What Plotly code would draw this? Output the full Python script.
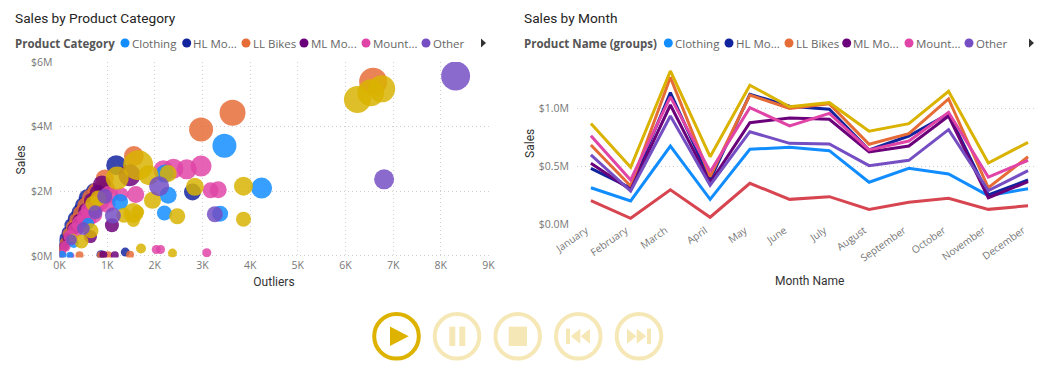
import plotly.graph_objects as go

W, H = 1040, 372

months = ["January", "February", "March", "April", "May", "June", "July",
          "August", "September", "October", "November", "December"]

# Sales by Month, $M
line_clothing = [.318, .204, .677, .218, .649, .666, .637, .365, .485, .436, .250, .310]
line_hl = [.485, .316, 1.136, .385, 1.122, 1.020, .993, .643, .763, .953, .256, .385]
line_ll = [.686, .333, 1.268, .413, 1.115, 1.000, 1.040, .692, .783, 1.082, .318, .585]
line_ml = [.528, .300, 1.030, .360, .878, .918, .907, .626, .677, .935, .232, .370]
line_mount = [.766, .385, 1.100, .456, 1.007, .850, .958, .643, .720, .967, .410, .554]
line_other = [.600, .290, .935, .340, .800, .700, .694, .508, .554, .818, .293, .465]
line_red = [.207, .055, .300, .064, .356, .218, .241, .132, .193, .227, .132, .163]
line_gold = [.870, .494, 1.323, .585, 1.200, 1.015, 1.050, .804, .869, 1.148, .531, .709]

# Sales by Product Category: outliers (K), sales ($M), bubble measure
sc_clothing_x = [3.46, 4.24, 2.21, 2.28, 1.27, 2.20, 3.37, 0.22, 0.05, 0.30, 0.60]
sc_clothing_y = [3.41, 2.10, 2.55, 1.88, 1.67, 1.33, 1.31, 0.02, 0.02, 0.40, 1.00]
sc_clothing_s = [24, 21, 18, 17, 16, 15, 16, 7, 9, 10, 12]

sc_hl_x = [1.19, 2.79, 0.87, 1.38, 0.02, 0.03, 0.08, 0.12, 0.18, 0.25, 0.33, 0.42, 0.50, 0.58, 0.72]
sc_hl_y = [2.81, 1.98, 0.04, 0.12, 0.10, 0.25, 0.40, 0.55, 0.72, 0.95, 1.15, 1.35, 1.55, 1.80, 2.00]
sc_hl_s = [20, 17, 9, 9, 8, 9, 11, 12, 13, 14, 15, 16, 17, 17, 16]

sc_ll_x = [6.58, 3.63, 2.97, 1.56, 0.98, 0.42, 1.02, 0.87, 1.48,
           0.02, 0.04, 0.06, 0.12, 0.20, 0.28, 0.36, 0.45, 0.55, 0.66, 0.78, 0.95]
sc_ll_y = [5.39, 4.43, 3.91, 3.09, 2.08, 0.02, 0.02, 0.02, 0.04,
           0.05, 0.18, 0.25, 0.42, 0.68, 0.90, 1.10, 1.32, 1.55, 1.80, 2.00, 2.40]
sc_ll_s = [28, 26, 24, 20, 18, 8, 8, 8, 8, 9, 9, 10, 11, 13, 14, 15, 16, 17, 18, 18, 18]

sc_ml_x = [1.47, 0.89, 1.10, 0.65, 0.92, 1.16, 0.10, 0.18, 0.30, 0.42, 0.55, 0.68, 0.80]
sc_ml_y = [2.50, 2.21, 0.95, 0.60, 0.04, 0.02, 0.30, 0.55, 0.85, 1.10, 1.40, 1.70, 1.95]
sc_ml_s = [22, 18, 14, 13, 8, 8, 10, 11, 13, 14, 15, 16, 16]

sc_other_x = [8.31, 6.81, 2.09, 3.26, 1.12, 0.25, 0.50, 0.75, 0.95]
sc_other_y = [5.57, 2.37, 2.16, 1.29, 1.25, 0.50, 0.85, 1.35, 1.85]
sc_other_s = [29, 20, 20, 16, 16, 11, 13, 14, 15]

sc_mount_x = [2.18, 2.39, 2.67, 2.97, 1.60, 1.30, 3.17, 3.33, 2.03, 2.12, 3.09, 0.24,
              0.05, 0.12, 0.22, 0.33, 0.45, 0.57, 0.70, 0.62, 0.75, 0.85, 1.00, 1.05]
sc_mount_y = [2.65, 2.70, 2.68, 2.78, 1.90, 1.90, 2.03, 2.05, 0.20, 0.20, 0.10, 0.00,
              0.08, 0.30, 0.60, 0.80, 1.00, 1.17, 1.30, 1.40, 1.50, 1.70, 1.60, 1.90]
sc_mount_s = [20, 20, 20, 21, 17, 14, 16, 17, 9, 9, 9, 7,
              9, 11, 13, 15, 18, 20, 19, 17, 17, 19, 17, 18]

sc_gold_x = [6.25, 6.53, 6.76, 1.65, 1.87, 1.21, 2.28, 1.95, 2.84, 3.86, 2.47, 3.86, 1.55,
             1.35, 1.64, 1.55, 1.71, 2.37, 0.46, 0.28, 0.66, 0.70, 0.81]
sc_gold_y = [4.84, 5.05, 5.17, 2.81, 2.50, 2.41, 2.55, 1.72, 2.14, 2.16, 1.23, 1.14, 1.33,
             1.26, 1.36, 1.10, 0.23, 0.09, 0.45, 0.55, 0.78, 1.62, 1.78]
sc_gold_s = [27, 27, 27, 30, 20, 23, 17, 17, 18, 19, 16, 15, 20,
             15, 13, 13, 10, 9, 14, 9, 15, 15, 16]

legend_labels = ["Clothing", "HL Mo...", "LL Bikes", "ML Mo...", "Mount...", "Other"]
C_BLUE, C_NAVY, C_ORANGE, C_PURPLE, C_PINK, C_VIOLET, C_RED, C_GOLD = (
    "#118DFF", "#12239E", "#E66C37", "#6B007B", "#E044A7", "#744EC2", "#D64550", "#D9B300")
legend_colors = [C_BLUE, C_NAVY, C_ORANGE, C_PURPLE, C_PINK, C_VIOLET]

def px(x):
    return x / W

def py(y):
    return 1 - y / H

fig = go.Figure()

scatter_series = [
    ("HL Mountain", sc_hl_x, sc_hl_y, sc_hl_s, C_NAVY),
    ("LL Bikes", sc_ll_x, sc_ll_y, sc_ll_s, C_ORANGE),
    ("ML Mountain", sc_ml_x, sc_ml_y, sc_ml_s, C_PURPLE),
    ("Mountain", sc_mount_x, sc_mount_y, sc_mount_s, C_PINK),
    ("Clothing", sc_clothing_x, sc_clothing_y, sc_clothing_s, C_BLUE),
    ("Road", sc_gold_x, sc_gold_y, sc_gold_s, C_GOLD),
    ("Other", sc_other_x, sc_other_y, sc_other_s, C_VIOLET),
]
for name, xs, ys, ss, col in scatter_series:
    fig.add_trace(go.Scatter(x=xs, y=ys, mode="markers", name=name, showlegend=False,
                             marker=dict(size=ss, sizemode="diameter", color=col, opacity=0.84,
                                         line=dict(width=0)),
                             xaxis="x", yaxis="y"))

line_series = [
    ("Clothing", line_clothing, C_BLUE),
    ("HL Mountain", line_hl, C_NAVY),
    ("LL Bikes", line_ll, C_ORANGE),
    ("ML Mountain", line_ml, C_PURPLE),
    ("Mountain", line_mount, C_PINK),
    ("Other", line_other, C_VIOLET),
    ("Tires", line_red, C_RED),
    ("Road", line_gold, C_GOLD),
]
for name, ys, col in line_series:
    fig.add_trace(go.Scatter(x=months, y=ys, mode="lines", name=name, showlegend=False,
                             line=dict(color=col, width=3, shape="linear"),
                             xaxis="x2", yaxis="y2"))

TICK = dict(family="Open Sans, sans-serif", size=10.5, color="#777777")
TITLE = dict(family="Roboto, sans-serif", size=12, color="#333333")
GRID = dict(showgrid=True, gridcolor="#CFCFCF", griddash="1px,3px", gridwidth=1,
            zeroline=False, showline=False, ticks="", automargin=False)

annotations = []
shapes = []

def text(x, y, s, font, anchor="left"):
    annotations.append(dict(x=px(x), y=py(y), xref="paper", yref="paper", text=s, showarrow=False,
                            xanchor=anchor, yanchor="middle", font=font, xshift=0, yshift=0,
                            borderpad=0, borderwidth=0))

HEAD = dict(family="Roboto, sans-serif", size=13.7, color="#252423")
LEG_T = dict(family="Open Sans, sans-serif", size=11.5, color="#555555")
LEG = dict(family="Open Sans, sans-serif", size=11.5, color="#666666")

text(15, 18, "Sales by Product Category", HEAD)
text(524, 18, "Sales by Month", HEAD)
text(15, 43, "<b>Product Category</b>", LEG_T)
text(524, 43, "<b>Product Name (groups)</b>", LEG_T)
text(809.5, 281, "Month Name", TITLE, anchor="center")

for dots, arrow in [((125, 186.7, 246, 304, 366, 426), 483), ((668.3, 729, 789, 846.7, 909, 969), 1031)]:
    for d, lab, col in zip(dots, legend_labels, legend_colors):
        shapes.append(dict(type="circle", xref="paper", yref="paper", x0=px(d - 4.5), x1=px(d + 4.5),
                           y0=py(43 + 4.5), y1=py(43 - 4.5), fillcolor=col, line=dict(width=0)))
        text(d + 6.5, 43, lab, LEG)
    shapes.append(dict(type="path", xref="paper", yref="paper", fillcolor="#333333", line=dict(width=0),
                       path=f"M{px(arrow-2)},{py(38.5)} L{px(arrow+3)},{py(43)} L{px(arrow-2)},{py(47.5)} Z"))

# media controls
FULL, FADE = "#DDB300", "#F6E8B6"
CY = 336.3

def ctrl_path(d, col):
    shapes.append(dict(type="path", xref="paper", yref="paper", fillcolor=col, line=dict(width=0), path=d))

def poly(points):
    return "M" + " L".join(f"{px(a)},{py(b)}" for a, b in points) + " Z"

for cx, col in [(396.5, FULL), (457, FADE), (517.7, FADE), (578.3, FADE), (639, FADE)]:
    shapes.append(dict(type="circle", xref="paper", yref="paper", x0=px(cx - 22.3), x1=px(cx + 22.3),
                       y0=py(CY + 22.3), y1=py(CY - 22.3), fillcolor="rgba(0,0,0,0)",
                       line=dict(color=col, width=4)))

top, bot = CY - 9.7, CY + 9.7
ctrl_path(poly([(390, top), (408.7, CY), (390, bot)]), FULL)
ctrl_path(poly([(449.3, top), (455.3, top), (455.3, bot), (449.3, bot)]), FADE)
ctrl_path(poly([(459.3, top), (465.3, top), (465.3, bot), (459.3, bot)]), FADE)
ctrl_path(poly([(508.7, top), (527, top), (527, bot), (508.7, bot)]), FADE)
ty0, ty1 = CY - 7.5, CY + 7.5
ctrl_path(poly([(566, top + 2), (570, top + 2), (570, bot - 2), (566, bot - 2)]), FADE)
ctrl_path(poly([(580.3, ty0), (580.3, ty1), (570.7, CY)]), FADE)
ctrl_path(poly([(590, ty0), (590, ty1), (580.7, CY)]), FADE)
ctrl_path(poly([(647, top + 2), (651, top + 2), (651, bot - 2), (647, bot - 2)]), FADE)
ctrl_path(poly([(627, ty0), (627, ty1), (636.6, CY)]), FADE)
ctrl_path(poly([(636.7, ty0), (636.7, ty1), (646.3, CY)]), FADE)

fig.update_layout(
    width=W, height=H, margin=dict(l=0, r=0, t=0, b=0, pad=0),
    paper_bgcolor="white", plot_bgcolor="white", showlegend=False,
    annotations=annotations, shapes=shapes,
    xaxis=dict(domain=[px(59.5), px(488.5)], range=[0, 9], anchor="y",
               tickvals=list(range(10)), ticktext=[f"{i}K" for i in range(10)], tickfont=TICK,
               title=dict(text="Outliers", font=TITLE, standoff=6), **GRID),
    yaxis=dict(domain=[py(257.6), py(62)], range=[-0.05, 6], anchor="x",
               tickvals=[0, 2, 4, 6], ticktext=["$0M", "$2M", "$4M", "$6M"], tickfont=TICK,
               ticklabelstandoff=6,
               title=dict(text="Sales", font=TITLE, standoff=2), **GRID),
    xaxis2=dict(domain=[px(577), px(1036)], range=[-0.35, 11.2], anchor="y2", type="category",
                categoryorder="array", categoryarray=months, tickangle=-35,
                tickfont=dict(TICK, size=10.2), ticklabelshift=-5, ticklabelstandoff=-3,
                showgrid=False, zeroline=False, showline=False, ticks="", automargin=False),
    yaxis2=dict(domain=[py(224.7), py(62)], range=[0, 1.4], anchor="x2",
                tickvals=[0, .5, 1], ticktext=["$0.0M", "$0.5M", "$1.0M"], tickfont=TICK,
                ticklabelstandoff=7,
                title=dict(text="Sales", font=TITLE, standoff=1), **GRID),
)

fig.write_html("out.html", post_script="document.body.style.margin='0';",
               config=dict(displayModeBar=False))
